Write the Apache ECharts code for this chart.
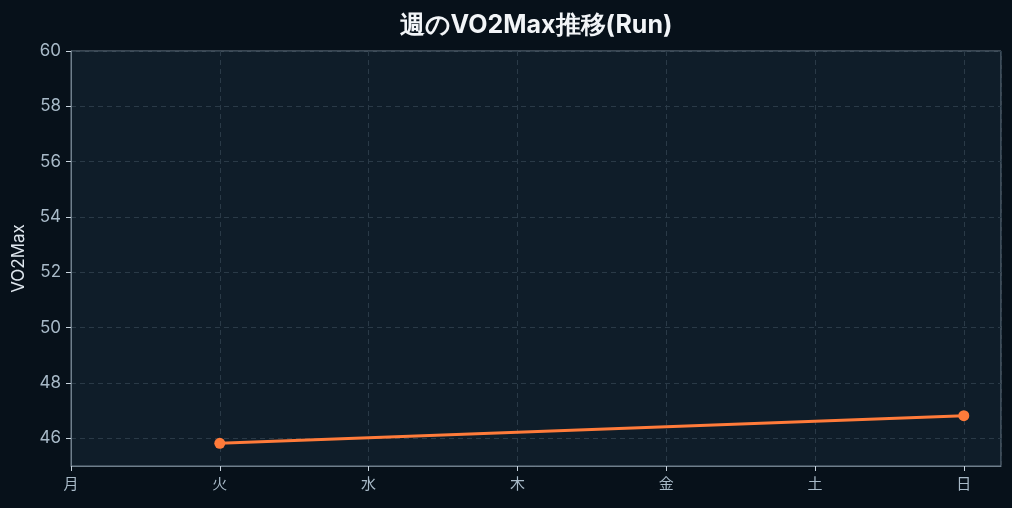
<!DOCTYPE html>
<html>
<head>
    <meta charset="utf-8">
    <title>VO2Max</title>
    <script src="https://cdn.jsdelivr.net/npm/echarts@6/dist/echarts.min.js"></script>
    <style>
        html, body { margin: 0; padding: 0; background: #07111a; }
        #main { width: 1012px; height: 508px; }
    </style>
</head>
<body>
    <div id="main"></div>
    <script>
        // 曜日ラベルと各日の値 (null = 計測なし)
        var days = ['月', '火', '水', '木', '金', '土', '日'];
        var vo2max = [null, 45.82, null, null, null, null, 46.82];
        var yTicks = [46, 48, 50, 52, 54, 56, 58, 60];

        var points = days.map(function (d, i) { return [i, vo2max[i]]; });

        var chart = echarts.init(document.getElementById('main'));
        var axisColor = '#6f7f8c';
        var labelColor = '#a8bac8';
        var gridColor = '#2a3a47';

        chart.setOption({
            backgroundColor: '#07111a',
            title: {
                text: '週のVO2Max推移(Run)',
                left: 531,
                textAlign: 'center',
                top: 8,
                textStyle: { color: '#f2f5f8', fontSize: 25, fontWeight: 'bold', fontFamily: 'Inter' }
            },
            grid: {
                left: 71, right: 11, top: 51, bottom: 42,
                outerBoundsMode: 'none',
                containLabel: false,
                show: true,
                backgroundColor: '#0f1d29',
                borderColor: axisColor,
                borderWidth: 1
            },
            xAxis: {
                type: 'value',
                min: 0,
                max: 6.25,
                interval: 1,
                axisLine: { show: true, lineStyle: { color: axisColor } },
                axisTick: { show: true, length: 5, lineStyle: { color: '#c8d4de' } },
                axisLabel: {
                    color: labelColor, fontSize: 15, fontFamily: 'Noto Sans CJK JP', margin: 10,
                    showMaxLabel: false,
                    formatter: function (v) { return days[v] || ''; }
                },
                splitLine: { show: true, lineStyle: { color: gridColor, type: [5, 4] } }
            },
            yAxis: {
                type: 'value',
                min: 45,
                max: 60,
                name: 'VO2Max',
                nameLocation: 'middle',
                nameGap: 44,
                nameTextStyle: { color: '#dfe7ee', fontSize: 17, fontFamily: 'Inter' },
                axisLine: { show: true, lineStyle: { color: axisColor } },
                axisTick: { show: true, length: 5, customValues: yTicks, lineStyle: { color: '#c8d4de' } },
                axisLabel: { color: labelColor, fontSize: 17, fontFamily: 'Inter', margin: 10, customValues: yTicks },
                splitLine: { show: true, lineStyle: { color: gridColor, type: [5, 4] } }
            },
            series: [{
                type: 'line',
                data: points,
                connectNulls: true,
                symbol: 'circle',
                symbolSize: 11,
                itemStyle: { color: '#ff7b3a' },
                lineStyle: { color: '#ff7b3a', width: 3 }
            }]
        });
    </script>
</body>
</html>
